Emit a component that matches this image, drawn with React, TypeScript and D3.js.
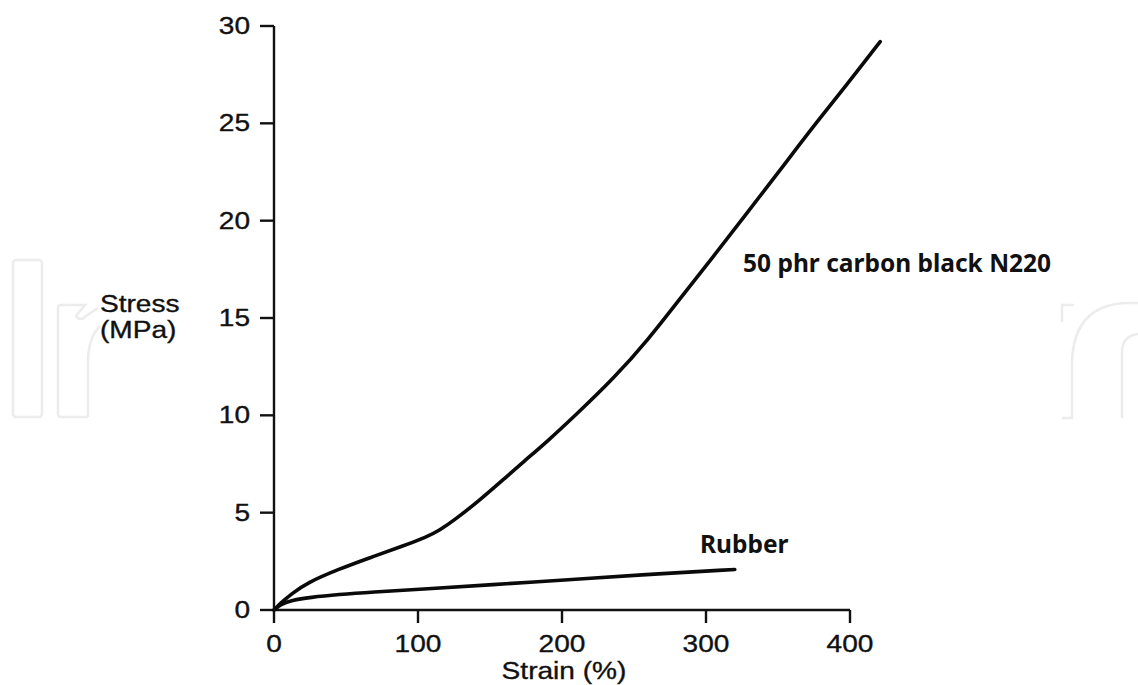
import {useEffect, useRef} from "react"

import * as d3 from "d3"

// curve values
const carbonStrain = [0, 5, 12, 23, 45, 67, 90, 106, 115, 125, 143, 160, 173, 189, 210, 236, 260, 282, 305, 328, 351, 374, 398, 421]
const carbonStress = [0, 0.38, 0.82, 1.4, 2.1, 2.7, 3.3, 3.75, 4.1, 4.6, 5.65, 6.75, 7.6, 8.6, 10.05, 11.9, 13.9, 16.0, 18.15, 20.35, 22.55, 24.8, 27.0, 29.2]

const rubberStrain = [0, 5, 12, 25, 45, 67, 106, 150, 206, 252, 320]
const rubberStress = [0, 0.3, 0.5, 0.65, 0.8, 0.92, 1.08, 1.3, 1.55, 1.8, 2.08]

const xTicks = [0, 100, 200, 300, 400]
const yTicks = [0, 5, 10, 15, 20, 25, 30]

const width = 1138
const height = 685
const stretch = 1.17
const axisFont = "'Liberation Sans', Arial, sans-serif"
const labelFont = "'Noto Sans', 'Open Sans', sans-serif"

const App = (): JSX.Element => {
  const ref = useRef<SVGSVGElement>(null)

  useEffect(() => {
    const svg = d3.select(ref.current)
    svg.selectAll("*").remove()

    const xScale = d3.scaleLinear().domain([0, 400]).range([274, 850])
    const yScale = d3.scaleLinear().domain([0, 30]).range([610, 26])

    // faint watermark outlines
    const wm = svg.append("g").attr("fill", "none").attr("stroke", "#ececec").attr("stroke-width", 2.5)
    wm.append("rect").attr("x", 13).attr("y", 260).attr("width", 29).attr("height", 157).attr("rx", 3)
    wm.append("path").attr("d", "M88,417 H61 Q58,417 58,414 V308 Q58,305 61,305 H85 L76,316 Q80,322 86,316 L98,308")
    wm.append("path").attr("d", "M88,417 V362 Q88,338 100,326")
    wm.append("path").attr("d", "M1062,418 H1072 V362 Q1074,304 1128,303 H1138")
    wm.append("path").attr("d", "M1062,322 V305 H1074")
    wm.append("path").attr("d", "M1122,418 V352 Q1122,336 1138,334")

    const axis = svg.append("g").attr("stroke", "#111").attr("stroke-width", 2.4).attr("fill", "none")
    axis.append("line")
      .attr("x1", xScale(0)).attr("x2", xScale(0))
      .attr("y1", yScale(0)).attr("y2", yScale(30))
    axis.append("line")
      .attr("x1", xScale(0)).attr("x2", xScale(400))
      .attr("y1", yScale(0)).attr("y2", yScale(0))

    const axisText = (x: number, y: number, anchor: string, label: string | number) =>
      svg.append("text")
        .attr("transform", `translate(${x},${y}) scale(${stretch},1)`)
        .attr("text-anchor", anchor)
        .attr("font-family", axisFont)
        .attr("font-size", 24)
        .attr("fill", "#111")
        .attr("stroke", "#111")
        .attr("stroke-width", 0.35)
        .text(label)

    for (const t of yTicks) {
      axis.append("line")
        .attr("x1", xScale(0) - 14).attr("x2", xScale(0))
        .attr("y1", yScale(t)).attr("y2", yScale(t))
      axisText(250, yScale(t) + 8, "end", t)
    }

    for (const t of xTicks) {
      axis.append("line")
        .attr("x1", xScale(t)).attr("x2", xScale(t))
        .attr("y1", yScale(0)).attr("y2", yScale(0) + 13)
      axisText(xScale(t), 652, "middle", t)
    }

    axisText(564, 679, "middle", "Strain (%)")

    const yLabel = ["Stress", "(MPa)"]
    yLabel.forEach((line, i) => axisText(100, 312 + i * 26, "start", line))

    const line = d3
      .line<number>()
      .x((d) => xScale(d))
      .curve(d3.curveBasis)

    svg.append("path")
      .attr("d", line.y((_, i) => yScale(carbonStress[i]))(carbonStrain))
      .attr("fill", "none")
      .attr("stroke", "#0a0a0a")
      .attr("stroke-width", 3.6)
      .attr("stroke-linecap", "round")

    svg.append("path")
      .attr("d", line.y((_, i) => yScale(rubberStress[i]))(rubberStrain))
      .attr("fill", "none")
      .attr("stroke", "#0a0a0a")
      .attr("stroke-width", 3.6)
      .attr("stroke-linecap", "round")

    svg.append("text")
      .attr("x", 743).attr("y", 272)
      .attr("font-family", labelFont)
      .attr("font-weight", 700)
      .attr("font-size", 24.5)
      .attr("fill", "#111")
      .text("50 phr carbon black N220")

    svg.append("text")
      .attr("x", 700).attr("y", 553)
      .attr("font-family", labelFont)
      .attr("font-weight", 700)
      .attr("font-size", 24.5)
      .attr("fill", "#111")
      .text("Rubber")
  }, [])

  return (
    <svg
      ref={ref}
      width={width}
      height={height}
      style={{position: "absolute", left: 0, top: 0, background: "#fff"}}
    />
  )
}

export default App
